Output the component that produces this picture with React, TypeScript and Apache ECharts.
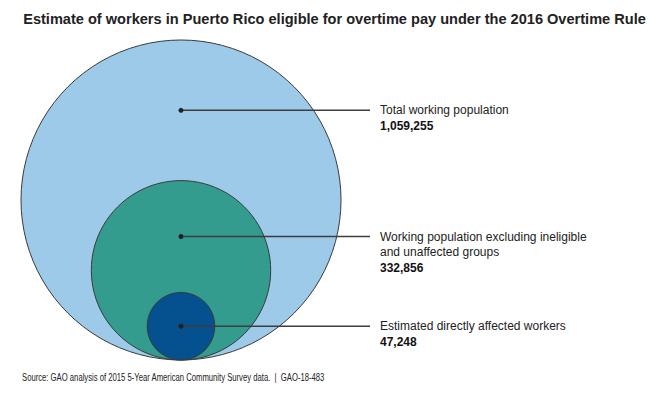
import React, { useEffect, useRef } from "react";
import * as echarts from "echarts";

const categories = [
  ["Total working population"],
  ["Working population excluding ineligible", "and unaffected groups"],
  ["Estimated directly affected workers"],
];
const values = [1059255, 332856, 47248];
const valueLabels = ["1,059,255", "332,856", "47,248"];
const colors = ["#9ecae9", "#349b8f", "#05508e"];

const TITLE = "Estimate of workers in Puerto Rico eligible for overtime pay under the 2016 Overtime Rule";
const SOURCE = "Source: GAO analysis of 2015 5-Year American Community Survey data.  |  GAO-18-483";

export default function App() {
  const ref = useRef<HTMLDivElement>(null);
  useEffect(() => {
    if (!ref.current) return;
    const chart = echarts.init(ref.current, null, { renderer: "svg" });
    const maxV = Math.max(...values);
    const radii = values.map((v) => Math.sqrt(v / maxV));
    const data = values.map((v, i) => {
      const r = radii[i];
      const next = radii[i + 1];
      const dotY = next !== undefined ? (2 * r + 2 * next) / 2 : r;
      return { value: [0, r, dotY, i] };
    });
    chart.setOption({
      animation: false,
      graphic: [
        {
          type: "text",
          x: 334.5,
          y: 19,
          scaleX: 0.972,
          style: {
            text: TITLE,
            align: "center",
            verticalAlign: "middle",
            fontFamily: "Liberation Sans",
            fontWeight: "bold",
            fontSize: 15,
            fill: "#222",
          },
        },
        {
          type: "text",
          x: 22,
          y: 378,
          scaleX: 0.77,
          style: {
            text: SOURCE,
            verticalAlign: "middle",
            fontFamily: "Liberation Sans",
            fontSize: 10,
            fill: "#222",
          },
        },
      ],
      grid: { left: 21, top: 40, width: 320, height: 320 },
      xAxis: { type: "value", min: -1, max: 1, show: false },
      yAxis: { type: "value", min: 0, max: 2, show: false },
      series: [
        {
          type: "custom",
          coordinateSystem: "cartesian2d",
          data,
          encode: { x: 0, y: 1 },
          renderItem: (params: any, api: any) => {
            const r = api.value(1);
            const dotY = api.value(2);
            const i = api.value(3);
            const c = api.coord([0, r]);
            const rad = api.size([r, r])[0];
            const d = api.coord([0, dotY]);
            const endX = 370;
            const textX = 380;
            const lines = categories[i];
            const children: any[] = [
              {
                type: "circle",
                shape: { cx: c[0], cy: c[1], r: rad },
                style: { fill: colors[i], stroke: "#3a3a3a", lineWidth: 1 },
              },
              {
                type: "line",
                shape: { x1: d[0], y1: d[1], x2: endX, y2: d[1] },
                style: { stroke: "#3d3d3d", lineWidth: 1.5 },
              },
              {
                type: "circle",
                shape: { cx: d[0], cy: d[1], r: 2.5 },
                style: { fill: "#222" },
              },
            ];
            lines.forEach((t: string, k: number) => {
              children.push({
                type: "text",
                style: {
                  text: t,
                  x: textX,
                  y: d[1] + k * 15.5,
                  verticalAlign: "middle",
                  fontFamily: "Liberation Sans",
                  fontSize: 12,
                  fill: "#222",
                },
              });
            });
            children.push({
              type: "text",
              style: {
                text: valueLabels[i],
                x: textX,
                y: d[1] + lines.length * 15.5,
                verticalAlign: "middle",
                fontFamily: "Liberation Sans",
                fontSize: 12,
                fontWeight: "bold",
                fill: "#111",
              },
            });
            return { type: "group", children };
          },
        },
      ],
    });
    return () => chart.dispose();
  }, []);
  return <div ref={ref} style={{ width: 668, height: 396, margin: -8 }} />;
}
